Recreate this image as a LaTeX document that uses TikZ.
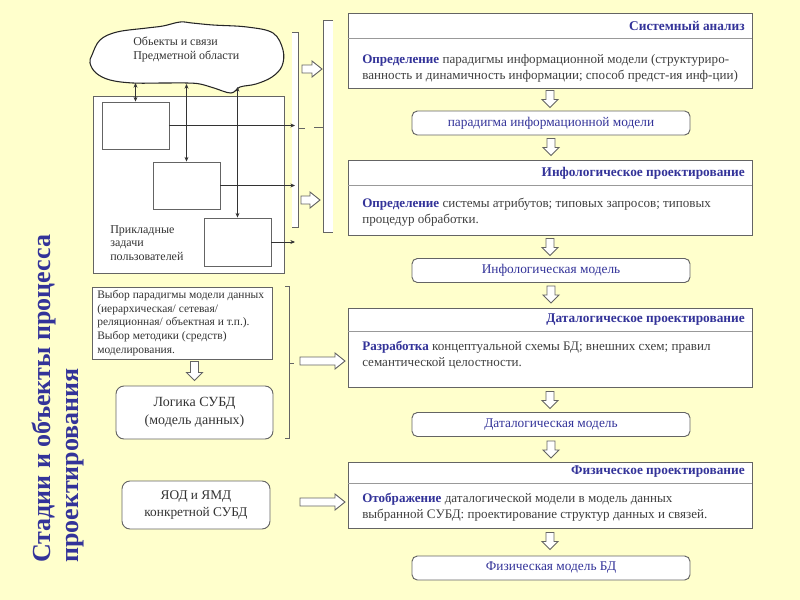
\documentclass[tikz,border=0pt]{standalone}
\usepackage{fontspec}
\setmainfont{Liberation Serif}
\usepackage{tikz}
\usetikzlibrary{arrows.meta}
\definecolor{bgyellow}{RGB}{255,255,204}
\definecolor{navy}{RGB}{51,51,153}
\definecolor{bodygray}{RGB}{64,64,64}
\definecolor{framegray}{RGB}{100,100,100}

\begin{document}
\begin{tikzpicture}[x=0.75pt,y=-0.75pt,
    boxline/.style={draw=framegray, line width=0.7pt, fill=white},
    stage/.style={boxline, minimum width=303pt, inner sep=0pt},
    result/.style={boxline, rounded corners=4pt, minimum width=208.5pt, minimum height=18pt, inner sep=0pt, text=navy, font=\fontsize{10}{12}\selectfont},
    head/.style={anchor=east, inner sep=0pt, text=navy, font=\bfseries\fontsize{10}{12}\selectfont},
    body/.style={anchor=north west, inner sep=0pt, align=left, text=bodygray, font=\fontsize{9.8}{12}\selectfont},
    small/.style={anchor=north west, inner sep=0pt, align=left, text=black!80, font=\fontsize{8.6}{10.3}\selectfont},
    task/.style={boxline, minimum width=50.25pt, inner sep=0pt},
    wire/.style={draw=black!80, line width=0.5pt},
    divider/.style={draw=black!40, line width=0.6pt},
    bracket/.style={draw=framegray, line width=0.7pt},
    biarrow/.style={wire, {Stealth[length=3.5pt,width=3pt]}-{Stealth[length=3.5pt,width=3pt]}},
    onearrow/.style={wire, -{Stealth[length=3.5pt,width=3pt]}},
    block/.style={draw=framegray, line width=0.7pt, fill=white, line join=miter},
    pics/dnarrow/.style={code={\draw[block] (-4,0) -- (4,0) -- (4,#1-8) -- (8,#1-8) -- (0,#1) -- (-8,#1-8) -- (-4,#1-8) -- cycle;}},
    pics/rtarrow/.style={code={\draw[block] (0,-4) -- (#1-10,-4) -- (#1-10,-8) -- (#1,0) -- (#1-10,8) -- (#1-10,4) -- (0,4) -- cycle;}}]

    \fill[bgyellow] (0,0) rectangle (800,600);
    \useasboundingbox (0,0) rectangle (800,600);

      \node (title1) at (50,563) [rotate=90, anchor=base west, inner sep=0pt, text=navy, font=\bfseries\fontsize{19.5}{22}\selectfont] {Стадии и объекты процесса};
      \node (title2) at (78,563) [rotate=90, anchor=base west, inner sep=0pt, text=navy, font=\bfseries\fontsize{19.5}{22}\selectfont] {проектирования};

      \node (apps) at (188.5,184.5) [boxline, minimum width=143.25pt, minimum height=132.75pt, inner sep=0pt] {};
      \node (t1) at (135.5,125.5) [task, minimum height=35.25pt] {};
      \node (t2) at (186.5,185.5) [task, minimum height=35.25pt] {};
      \node (t3) at (237.5,242) [task, minimum height=36pt] {};
      \node (appl) at (110,225) [small, font=\fontsize{9}{10.3}\selectfont] {Прикладные\\задачи\\пользователей};

    \draw[boxline, draw=black!85, line width=0.8pt] plot[smooth cycle, tension=0.6] coordinates {
      (92,55) (100,40) (117,32) (147,28) (163,26) (180,22) (192,23) (213,25) (247,27) (273,33)
      (283,50) (282,66) (272,77) (256,84) (240,87) (231,93) (214,88) (200,84) (187,83)
      (163,83) (133,83) (110,80) (96,73) (90,63)};
      \node (cloud) at (133,37) [small, font=\fontsize{9}{10.5}\selectfont] {Обьекты и связи\\Предметной области};

      \coordinate (c1) at (135.5,83);
      \coordinate (c2) at (186.5,84);
      \coordinate (c3) at (237.5,87);
      \coordinate (brA) at (295,0);

    \draw[bracket, fill=white] (292,32) -- (298,32) -- (298,227) -- (292,227);
    \draw[bracket] (298,128) -- (305,128);
    \draw[bracket, fill=white] (333,20) -- (323,20) -- (323,232) -- (333,232);
    \draw[bracket] (323,127) -- (314,127);

    \draw[biarrow] (c1) -- (t1.north);
    \draw[biarrow] (c2) -- (t2.north);
    \draw[biarrow] (c3) -- (t3.north);
    \draw[onearrow] (t1.east) -- (t1.east -| brA);
    \draw[onearrow] (t2.east) -- (t2.east -| brA);
    \draw[onearrow] (t3.east) -- (t3.east -| brA);

    \pic at (302,69) {rtarrow=20};
    \pic at (301,200) {rtarrow=19};

      \node (choice) at (182,323) [boxline, minimum width=135pt, minimum height=54pt, inner sep=0pt] {};
      \node (choicet) at (97,290) [small] {Выбор парадигмы модели данных\\(иерархическая/ сетевая/\\реляционная/ объектная и т.п.).\\Выбор методики (средств)\\моделирования.};
      \node (logic) at (194.5,412.5) [boxline, rounded corners=6pt, minimum width=117.75pt, minimum height=39.75pt, align=center, text=black!80, font=\fontsize{10.5}{13}\selectfont] {Логика СУБД\\(модель данных)};
      \node (yod) at (196,505) [boxline, rounded corners=6pt, minimum width=111pt, minimum height=36pt, align=center, text=black!80, font=\fontsize{10}{13}\selectfont] {ЯОД и ЯМД\\конкретной СУБД};
    \path (logic.north |- choice.south) ++(0,2) pic {dnarrow=19};

    \draw[bracket] (285,286) -- (289,286) -- (289,438) -- (285,438);
    \draw[bracket] (289,363) -- (294,363);
    \pic at (300,361) {rtarrow=45};
    \pic at (300,502) {rtarrow=45};

      \node (sys) at (550,50.5) [stage, minimum height=56.25pt] {};
      \node (par) at (551,123) [result] {парадигма информационной модели};
      \node (info) at (550,197.5) [stage, minimum height=56.25pt] {};
      \node (infm) at (551,270.5) [result] {Инфологическая модель};
      \node (data) at (550,347.5) [stage, minimum height=59.25pt] {};
      \node (datm) at (551,424.5) [result] {Даталогическая модель};
      \node (phys) at (550,495) [stage, minimum height=49.5pt] {};
      \node (physm) at (551,568) [result] {Физическая модель БД};

    \draw[divider] (sys.west |- 0,38) -- (sys.east |- 0,38);
    \draw[divider] (info.west |- 0,185) -- (info.east |- 0,185);
    \draw[divider] (data.west |- 0,331) -- (data.east |- 0,331);
    \draw[divider] (phys.west |- 0,483) -- (phys.east |- 0,483);

      \node (sysh) at (745,26) [head] {Системный анализ};
      \node (infoh) at (745,173) [head] {Инфологическое проектирование};
      \node (datah) at (745,320) [head] {Даталогическое проектирование};
      \node (physh) at (745,472) [head] {Физическое проектирование};

      \node (sysb) at (362,54) [body] {\textcolor{navy}{\textbf{Определение}} парадигмы информационной модели (структуриро-\\ванность и динамичность информации; способ предст-ия инф-ции)};
      \node (infob) at (362,198) [body] {\textcolor{navy}{\textbf{Определение}} системы атрибутов; типовых запросов; типовых\\процедур обработки.};
      \node (datab) at (362,341) [body] {\textcolor{navy}{\textbf{Разработка}} концептуальной схемы БД; внешних схем; правил\\семантической целостности.};
      \node (physb) at (362,493) [body] {\textcolor{navy}{\textbf{Отображение}} даталогической модели в модель данных\\выбранной СУБД: проектирование структур данных и связей.};

    \path (sys.south) ++(0,2) pic {dnarrow=17};
    \path (par.south) ++(0,3) pic {dnarrow=17};
    \path (info.south) ++(0,3) pic {dnarrow=17};
    \path (infm.south) ++(0,3) pic {dnarrow=17};
    \path (data.south) ++(0,4) pic {dnarrow=17};
    \path (datm.south) ++(0,4) pic {dnarrow=17};
    \path (phys.south) ++(0,4) pic {dnarrow=17};
  \end{tikzpicture}
\end{document}
